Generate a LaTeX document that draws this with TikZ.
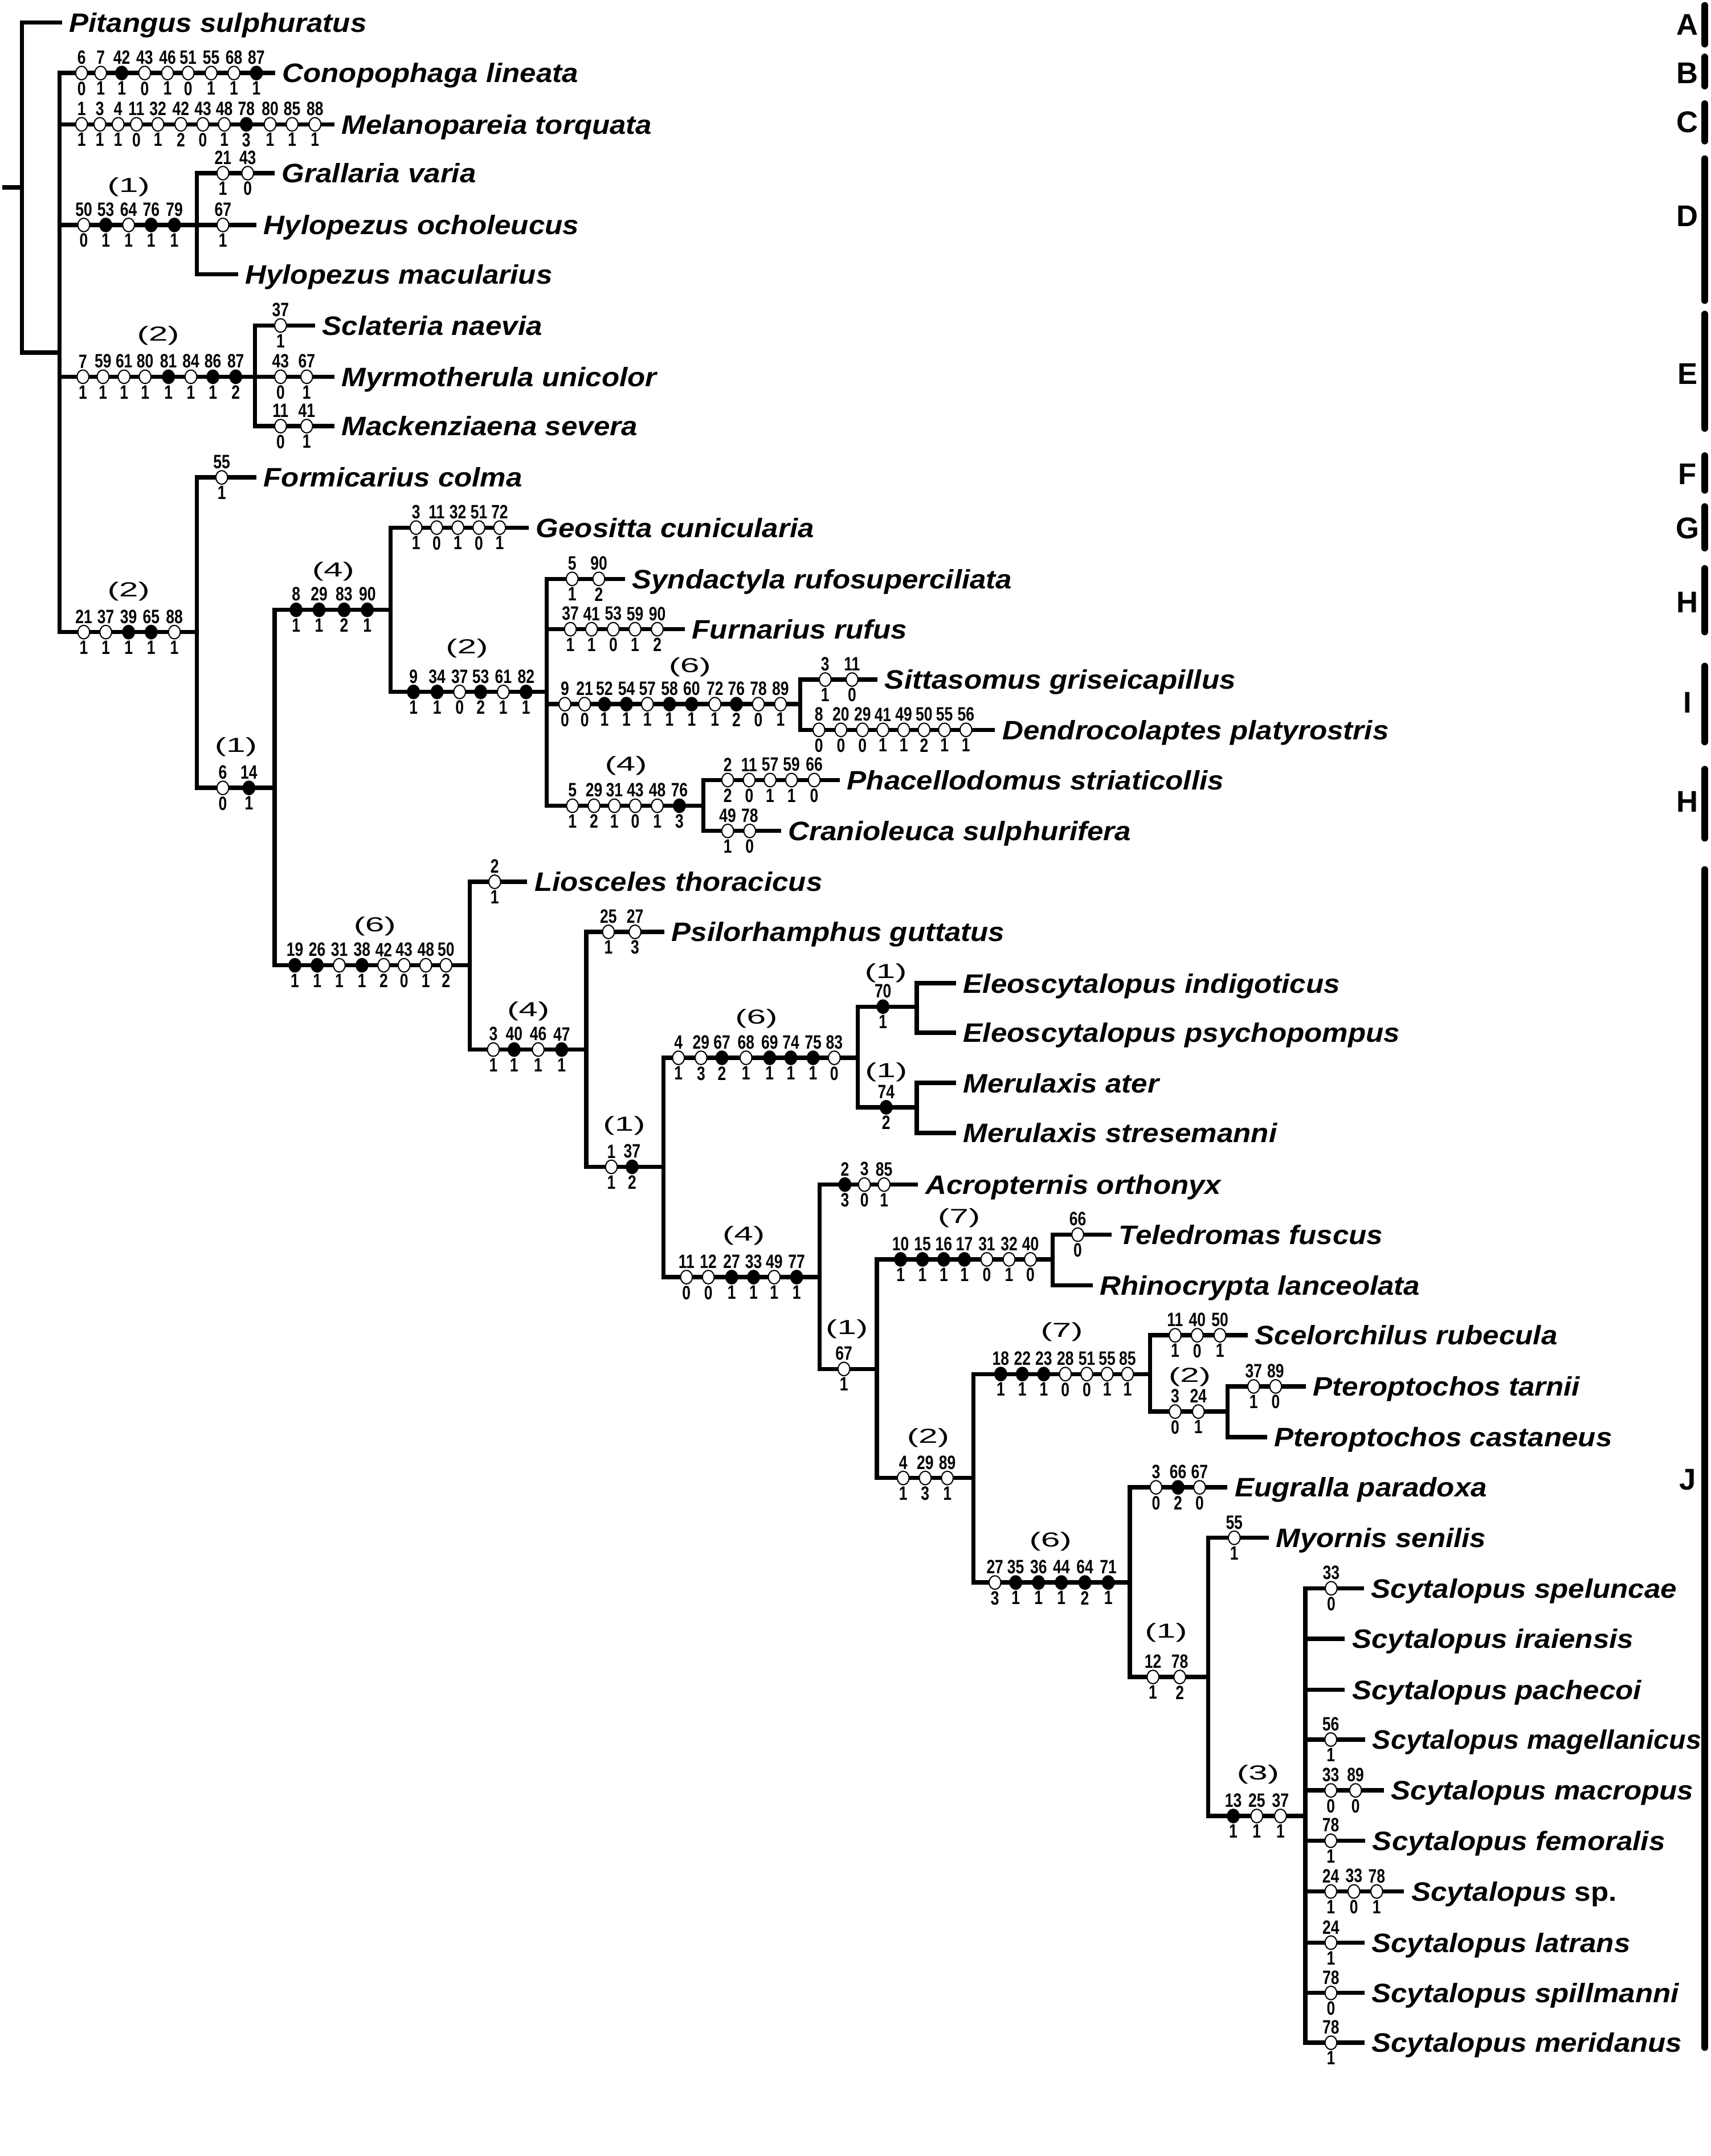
\documentclass[tikz,border=0pt]{standalone}
\usepackage{fontspec}
\usepackage{graphicx}
\setmainfont{Liberation Sans}
\newfontfamily\taxfont[FakeStretch=1.09]{Liberation Sans}
\newfontfamily\numfont[FakeStretch=0.78]{Liberation Sans}
\newfontfamily\stepfont[FakeStretch=1.7]{Liberation Sans}
\usetikzlibrary{positioning,shapes.geometric}
\colorlet{o}{white}
\colorlet{f}{black}

% apomorphies on one branch: id, y, list of x/character/state/fill
\newcommand{\apos}[3]{%
  \foreach \ax/\an/\as/\af [count=\k] in {#3} {
    \node[apo=\af] (#1-\k) at (\ax,#2) {};
    \node[chnum, above=0.5pt of #1-\k] (#1-\k-c) {\an};
    \node[chnum, below=0.5pt of #1-\k] (#1-\k-s) {\as};
  }}

\begin{document}
\begin{tikzpicture}[x=0.025cm, y=-0.025cm,
    branch/.style={line width=2.2pt},
    taxon/.style={anchor=west, inner xsep=3.6pt, inner ysep=0pt,
        text height=9.9pt, text depth=0pt,
        font=\taxfont\bfseries\itshape\fontsize{13.8}{16}\selectfont},
    apo/.style={ellipse, draw, line width=0.6pt, fill=#1,
        minimum width=6.1pt, minimum height=7pt, inner sep=0pt},
    chnum/.style={inner sep=0pt, font=\numfont\bfseries\fontsize{10}{11}\selectfont},
    changes/.style={inner sep=0pt, font=\stepfont\fontsize{10.5}{11}\selectfont},
    cladelabel/.style={inner sep=0pt, font=\bfseries\fontsize{15.5}{16}\selectfont},
    cladebar/.style={line width=3.6pt, line cap=round}]

    \useasboundingbox (0,0) rectangle (1244,1568);

    %----- TERMINAL TAXA -----
    \node[taxon] (pitangus) at (45,16.3) {Pitangus sulphuratus};
    \node[taxon] (conopophaga) at (200,53.1) {Conopophaga lineata};
    \node[taxon] (melanopareia) at (243,90.4) {Melanopareia torquata};
    \node[taxon] (grallaria) at (199.7,125.9) {Grallaria varia};
    \node[taxon] (hocholeucus) at (186.4,163.6) {Hylopezus ocholeucus};
    \node[taxon] (hmacularius) at (173,199.5) {Hylopezus macularius};
    \node[taxon] (sclateria) at (229,236.7) {Sclateria naevia};
    \node[taxon] (myrmotherula) at (243,274) {Myrmotherula unicolor};
    \node[taxon] (mackenziaena) at (243,309.9) {Mackenziaena severa};
    \node[taxon] (formicarius) at (186.3,347.2) {Formicarius colma};
    \node[taxon] (geositta) at (384.4,383.7) {Geositta cunicularia};
    \node[taxon] (syndactyla) at (454.3,421) {Syndactyla rufosuperciliata};
    \node[taxon] (furnarius) at (497.9,457.6) {Furnarius rufus};
    \node[taxon] (sittasomus) at (638,494.2) {Sittasomus griseicapillus};
    \node[taxon] (dendrocolaptes) at (723.5,530.8) {Dendrocolaptes platyrostris};
    \node[taxon] (phacellodomus) at (610.6,567.3) {Phacellodomus striaticollis};
    \node[taxon] (cranioleuca) at (567.9,604.3) {Cranioleuca sulphurifera};
    \node[taxon] (liosceles) at (383.4,641.3) {Liosceles thoracicus};
    \node[taxon] (psilorhamphus) at (483,677.7) {Psilorhamphus guttatus};
    \node[taxon] (eindigoticus) at (695.1,715.1) {Eleoscytalopus indigoticus};
    \node[taxon] (epsychopompus) at (695.1,751.1) {Eleoscytalopus psychopompus};
    \node[taxon] (mater) at (695.1,787.6) {Merulaxis ater};
    \node[taxon] (mstresemanni) at (695.1,824) {Merulaxis stresemanni};
    \node[taxon] (acropternis) at (667.5,861.5) {Acropternis orthonyx};
    \node[taxon] (teledromas) at (808.2,897.9) {Teledromas fuscus};
    \node[taxon] (rhinocrypta) at (794.4,934.8) {Rhinocrypta lanceolata};
    \node[taxon] (scelorchilus) at (907.2,971.1) {Scelorchilus rubecula};
    \node[taxon] (ptarnii) at (949.5,1008.3) {Pteroptochos tarnii};
    \node[taxon] (pcastaneus) at (921.2,1045.2) {Pteroptochos castaneus};
    \node[taxon] (eugralla) at (892.5,1081.7) {Eugralla paradoxa};
    \node[taxon] (myornis) at (922.4,1118.4) {Myornis senilis};
    \node[taxon] (speluncae) at (991.7,1155.1) {Scytalopus speluncae};
    \node[taxon] (iraiensis) at (977.8,1191.9) {Scytalopus iraiensis};
    \node[taxon] (pachecoi) at (977.8,1228.8) {Scytalopus pachecoi};
    \node[taxon] (magellanicus) at (992.6,1265.1) {\scalebox{0.946}[1]{Scytalopus magellanicus}};
    \node[taxon] (macropus) at (1006.2,1302.1) {Scytalopus macropus};
    \node[taxon] (femoralis) at (992.6,1338.7) {Scytalopus femoralis};
    \node[taxon] (scytsp) at (1020.8,1375.6) {Scytalopus {\upshape sp.}};
    \node[taxon] (latrans) at (992,1412.8) {Scytalopus latrans};
    \node[taxon] (spillmanni) at (992,1449.4) {Scytalopus spillmanni};
    \node[taxon] (meridanus) at (992,1485.6) {Scytalopus meridanus};

    %----- INTERNAL NODES -----
    \coordinate (stub) at (1.7,136.2);
    \coordinate (root) at (16,136.2);
    \coordinate (ingroup) at (43.3,256.4);
    \coordinate (nGral) at (143.1,163.6);
    \coordinate (nTham) at (185.4,274);
    \coordinate (nCore) at (143.2,459.7);
    \coordinate (nTapa) at (199.7,573);
    \coordinate (nFurn) at (284,443.5);
    \coordinate (nFurnB) at (397.5,503.2);
    \coordinate (nDend) at (581.9,512.1);
    \coordinate (nPhac) at (511.3,586);
    \coordinate (nRhin) at (341.5,702);
    \coordinate (nRhinB) at (426.3,763.3);
    \coordinate (nRhinC) at (482.3,848.6);
    \coordinate (nEleoMeru) at (623.7,769.3);
    \coordinate (nEleo) at (666.5,732.1);
    \coordinate (nMeru) at (666.5,805.3);
    \coordinate (nRhinD) at (596,928.8);
    \coordinate (nRhinE) at (637.6,995.6);
    \coordinate (nTele) at (765.4,915.9);
    \coordinate (nRhinF) at (707.8,1074.9);
    \coordinate (nPter) at (836.3,999.3);
    \coordinate (nPtero) at (892.5,1026.6);
    \coordinate (nRhinG) at (821.5,1150.9);
    \coordinate (nMyor) at (878.5,1219.6);
    \coordinate (nScyt) at (949,1320.7);

    %----- BRANCHES -----
    \draw[branch] (stub) -- (root);
    \draw[branch] (root) |- (pitangus.west) (root) |- (ingroup);
    \draw[branch] (ingroup) |- (conopophaga.west) (ingroup) |- (melanopareia.west)
        (ingroup) |- (nGral) (ingroup) |- (nTham) (ingroup) |- (nCore);
    \draw[branch] (nGral) |- (grallaria.west) (nGral) |- (hocholeucus.west)
        (nGral) |- (hmacularius.west);
    \draw[branch] (nTham) |- (sclateria.west) (nTham) |- (myrmotherula.west)
        (nTham) |- (mackenziaena.west);
    \draw[branch] (nCore) |- (formicarius.west) (nCore) |- (nTapa);
    \draw[branch] (nTapa) |- (nFurn) (nTapa) |- (nRhin);
    \draw[branch] (nFurn) |- (geositta.west) (nFurn) |- (nFurnB);
    \draw[branch] (nFurnB) |- (syndactyla.west) (nFurnB) |- (furnarius.west)
        (nFurnB) |- (nDend) (nFurnB) |- (nPhac);
    \draw[branch] (nDend) |- (sittasomus.west) (nDend) |- (dendrocolaptes.west);
    \draw[branch] (nPhac) |- (phacellodomus.west) (nPhac) |- (cranioleuca.west);
    \draw[branch] (nRhin) |- (liosceles.west) (nRhin) |- (nRhinB);
    \draw[branch] (nRhinB) |- (psilorhamphus.west) (nRhinB) |- (nRhinC);
    \draw[branch] (nRhinC) |- (nEleoMeru) (nRhinC) |- (nRhinD);
    \draw[branch] (nEleoMeru) |- (nEleo) (nEleoMeru) |- (nMeru);
    \draw[branch] (nEleo) |- (eindigoticus.west) (nEleo) |- (epsychopompus.west);
    \draw[branch] (nMeru) |- (mater.west) (nMeru) |- (mstresemanni.west);
    \draw[branch] (nRhinD) |- (acropternis.west) (nRhinD) |- (nRhinE);
    \draw[branch] (nRhinE) |- (nTele) (nRhinE) |- (nRhinF);
    \draw[branch] (nTele) |- (teledromas.west) (nTele) |- (rhinocrypta.west);
    \draw[branch] (nRhinF) |- (nPter) (nRhinF) |- (nRhinG);
    \draw[branch] (nPter) |- (scelorchilus.west) (nPter) |- (nPtero);
    \draw[branch] (nPtero) |- (ptarnii.west) (nPtero) |- (pcastaneus.west);
    \draw[branch] (nRhinG) |- (eugralla.west) (nRhinG) |- (nMyor);
    \draw[branch] (nMyor) |- (myornis.west) (nMyor) |- (nScyt);
    \foreach \sp in {speluncae,iraiensis,pachecoi,magellanicus,macropus,
                     femoralis,scytsp,latrans,spillmanni,meridanus}
        \draw[branch] (nScyt) |- (\sp.west);

    %----- APOMORPHIES -----
    \apos{cono}{53.1}{59.3/6/0/o, 73.2/7/1/o, 88.5/42/1/f, 105.2/43/0/o, 121.8/46/1/o,
        136.8/51/0/o, 153.5/55/1/o, 170.1/68/1/o, 186.4/87/1/f}
    \apos{mela}{90.4}{59.3/1/1/o, 72.6/3/1/o, 85.9/4/1/o, 99.2/11/0/o, 114.8/32/1/o,
        131.5/42/2/o, 147.5/43/0/o, 163.1/48/1/o, 179.1/78/3/f, 196.4/80/1/o,
        212.4/85/1/o, 229/88/1/o}
    \apos{gral}{163.6}{60.9/50/0/o, 76.9/53/1/f, 93.5/64/1/o, 109.9/76/1/f, 126.8/79/1/f}
    \apos{grva}{125.9}{162.1/21/1/o, 180.1/43/0/o}
    \apos{hyoc}{163.6}{162.1/67/1/o}
    \apos{tham}{274}{60.3/7/1/o, 74.9/59/1/o, 90.2/61/1/o, 105.5/80/1/o, 122.5/81/1/f,
        138.8/84/1/o, 154.8/86/1/f, 171.4/87/2/f}
    \apos{scna}{236.7}{204/37/1/o}
    \apos{myun}{274}{204/43/0/o, 223/67/1/o}
    \apos{mase}{309.9}{204/11/0/o, 223/41/1/o}
    \apos{core}{459.7}{60.9/21/1/o, 76.9/37/1/o, 93.5/39/1/f, 109.9/65/1/f, 126.8/88/1/o}
    \apos{foco}{347.2}{161.2/55/1/o}
    \apos{tapa}{573}{162/6/0/o, 181/14/1/f}
    \apos{furn}{443.5}{215.3/8/1/f, 232/29/1/f, 250.2/83/2/f, 267.1/90/1/f}
    \apos{geos}{383.7}{302.5/3/1/o, 317.5/11/0/o, 332.9/32/1/o, 348.2/51/0/o, 363.3/72/1/o}
    \apos{furb}{503.2}{300.6/9/1/f, 317.8/34/1/f, 334.2/37/0/o, 349.5/53/2/f,
        365.9/61/1/o, 382.5/82/1/f}
    \apos{synd}{421}{416/5/1/o, 435.4/90/2/o}
    \apos{furu}{457.6}{414.7/37/1/o, 430.1/41/1/o, 445.9/53/0/o, 461.7/59/1/o, 477.9/90/2/o}
    \apos{dend}{512.1}{410.7/9/0/o, 425.1/21/0/o, 439.5/52/1/f, 455.5/54/1/f,
        470.7/57/1/o, 486.8/58/1/f, 502.9/60/1/f, 519.8/72/1/o, 535.4/76/2/f,
        551.4/78/0/o, 567.5/89/1/o}
    \apos{sitt}{494.2}{600/3/1/o, 619.5/11/0/o}
    \apos{dpla}{530.8}{595.4/8/0/o, 611.4/20/0/o, 627.1/29/0/o, 641.9/41/1/o,
        657.1/49/1/o, 671.9/50/2/o, 686.7/55/1/o, 702.3/56/1/o}
    \apos{phac}{586}{416.2/5/1/o, 431.9/29/2/o, 446.7/31/1/o, 461.9/43/0/o,
        477.9/48/1/o, 494/76/3/f}
    \apos{phst}{567.3}{529.1/2/2/o, 544.7/11/0/o, 559.9/57/1/o, 575.5/59/1/o, 592/66/0/o}
    \apos{crsu}{604.3}{529.1/49/1/o, 545.1/78/0/o}
    \apos{rhin}{702}{214.4/19/1/f, 230.6/26/1/f, 246.7/31/1/o, 263.2/38/1/f,
        279/42/2/o, 293.8/43/0/o, 309.6/48/1/o, 324.3/50/2/o}
    \apos{lios}{641.3}{359.7/2/1/o}
    \apos{rhib}{763.3}{358.7/3/1/o, 373.8/40/1/f, 391.3/46/1/o, 408.4/47/1/f}
    \apos{psil}{677.7}{442.4/25/1/o, 461.7/27/3/o}
    \apos{rhic}{848.6}{444.5/1/1/o, 459.6/37/2/f}
    \apos{elme}{769.3}{493.3/4/1/o, 509.7/29/3/o, 524.9/67/2/f, 542.4/68/1/o,
        559.6/69/1/f, 575/74/1/f, 591.2/75/1/f, 606.6/83/0/o}
    \apos{eleo}{732.1}{642/70/1/f}
    \apos{meru}{805.3}{644.3/74/2/f}
    \apos{rhid}{928.8}{499.1/11/0/o, 515/12/0/o, 532/27/1/f, 547.9/33/1/f,
        562.9/49/1/o, 579.2/77/1/f}
    \apos{acro}{861.5}{614.3/2/3/f, 628.5/3/0/o, 642.8/85/1/o}
    \apos{rhie}{995.6}{613.6/67/1/o}
    \apos{tele}{915.9}{654.8/10/1/f, 670.7/15/1/f, 686.2/16/1/f, 701.2/17/1/f,
        717.5/31/0/o, 733.7/32/1/o, 749.2/40/0/o}
    \apos{tefu}{897.9}{783.6/66/0/o}
    \apos{rhif}{1074.9}{656.7/4/1/o, 672.7/29/3/o, 688.8/89/1/o}
    \apos{pter}{999.3}{727.6/18/1/f, 743.3/22/1/f, 758.9/23/1/f, 774.6/28/0/o,
        790.2/51/0/o, 805/55/1/o, 819.8/85/1/o}
    \apos{scru}{971.1}{854.4/11/1/o, 870.5/40/0/o, 887/50/1/o}
    \apos{ptsp}{1026.6}{854.4/3/0/o, 871.3/24/1/o}
    \apos{ptta}{1008.3}{911.5/37/1/o, 927.5/89/0/o}
    \apos{rhig}{1150.9}{723.4/27/3/o, 738.5/35/1/f, 755.1/36/1/f, 771.7/44/1/f,
        788.8/64/2/f, 805.8/71/1/f}
    \apos{eupa}{1081.7}{840.5/3/0/o, 856.5/66/2/f, 872.2/67/0/o}
    \apos{myor}{1219.6}{838.3/12/1/o, 857.8/78/2/o}
    \apos{myse}{1118.4}{897.4/55/1/o}
    \apos{scyt}{1320.7}{896.7/13/1/f, 913.8/25/1/o, 931/37/1/o}
    \apos{spel}{1155.1}{967.9/33/0/o}
    \apos{smag}{1265.1}{967.6/56/1/o}
    \apos{smac}{1302.1}{967.6/33/0/o, 985.6/89/0/o}
    \apos{sfem}{1338.7}{967.6/78/1/o}
    \apos{sspp}{1375.6}{967.6/24/1/o, 984.4/33/0/o, 1001/78/1/o}
    \apos{slat}{1412.8}{967.7/24/1/o}
    \apos{sspi}{1449.4}{967.7/78/0/o}
    \apos{smer}{1485.6}{967.7/78/1/o}

    %----- NUMBER OF CHANGES -----
    \node[changes] (ch-gral) at (93.5,136) {(1)};
    \node[changes] (ch-tham) at (115,244.3) {(2)};
    \node[changes] (ch-core) at (93.5,430) {(2)};
    \node[changes] (ch-tapa) at (171.5,543) {(1)};
    \node[changes] (ch-furn) at (242.3,415.5) {(4)};
    \node[changes] (ch-furb) at (339.5,471.4) {(2)};
    \node[changes] (ch-dend) at (501.6,485.2) {(6)};
    \node[changes] (ch-phac) at (455.1,557) {(4)};
    \node[changes] (ch-rhin) at (272.5,673.5) {(6)};
    \node[changes] (ch-rhib) at (384.1,735.3) {(4)};
    \node[changes] (ch-rhic) at (453.8,818.5) {(1)};
    \node[changes] (ch-elme) at (549.9,740.8) {(6)};
    \node[changes] (ch-eleo) at (644,707.5) {(1)};
    \node[changes] (ch-meru) at (644.3,779.7) {(1)};
    \node[changes] (ch-rhid) at (540.7,898.8) {(4)};
    \node[changes] (ch-rhie) at (615.7,966.6) {(1)};
    \node[changes] (ch-tele) at (697.3,885.9) {(7)};
    \node[changes] (ch-rhif) at (674.8,1045.6) {(2)};
    \node[changes] (ch-pter) at (772,968.7) {(7)};
    \node[changes] (ch-ptsp) at (865,1001.2) {(2)};
    \node[changes] (ch-rhig) at (763.8,1120.9) {(6)};
    \node[changes] (ch-myor) at (847.8,1187.2) {(1)};
    \node[changes] (ch-scyt) at (914.7,1290.7) {(3)};

    %----- CLADE BARS -----
    \foreach \lab/\ly/\btop/\bbot [count=\i] in {A/18/4/32, B/53/41.5/62.5,
            C/89/75.5/102.5, D/157/115.5/218.5, E/272/228.5/311.5,
            F/345/331.5/356.5, G/384/368.5/398.5, H/438/413.5/459.5,
            I/511/484.5/539.5, H/583/559.5/609.5, J/1076/632.5/1489} {
        \node[cladelabel] (clade-\i) at (1227,\ly) {\lab};
        \draw[cladebar] (1239.5,\btop) -- (1239.5,\bbot);
    }

\end{tikzpicture}
\end{document}
